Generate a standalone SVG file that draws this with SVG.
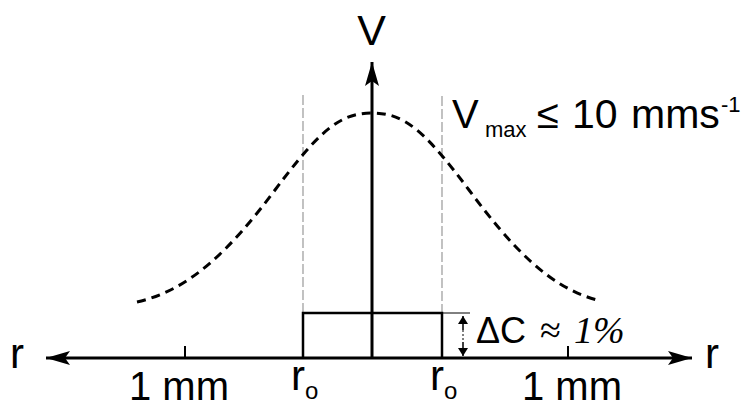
<svg xmlns="http://www.w3.org/2000/svg" width="741" height="408" viewBox="0 0 741 408">
<style>
.lbl{font-family:"Liberation Sans",Arial,Helvetica,sans-serif;fill:#000}
.ser{font-family:"Liberation Serif","Times New Roman",serif;fill:#000}
.ax{stroke:#000;stroke-width:3;fill:none}
.guide{stroke:#999;stroke-width:1.2;stroke-dasharray:10,3;fill:none}
.curve{stroke:#000;stroke-width:3;stroke-dasharray:9,6;fill:none}
</style>
<defs>
<marker id="ah" markerUnits="userSpaceOnUse" markerWidth="24" markerHeight="14" refX="24" refY="7" orient="auto">
<path d="M0,0 L24,7 L0,14 L5,7 z" fill="#000"/>
</marker>
<marker id="sm" markerUnits="userSpaceOnUse" markerWidth="8" markerHeight="10" refX="8" refY="5" orient="auto">
<path d="M0,0 L8,5 L0,10 z" fill="#000"/>
</marker>
</defs>
<rect width="741" height="408" fill="#fff"/>
<g id="guides">
<line class="guide" x1="303" y1="95" x2="303" y2="313"/>
<line class="guide" x1="442" y1="96" x2="442" y2="313"/>
</g>
<g id="profile">
<path class="curve" d="M137,302 C190,290 230,250 275,190 C320,130 340,113 372,113 C404,113 424,130 469,190 C510,245 548,287 597,300"/>
</g>
<g id="connectors">
<line class="ax" x1="372" y1="358" x2="372" y2="62" marker-end="url(#ah)"/>
<line class="ax" x1="372" y1="358" x2="46" y2="358" marker-end="url(#ah)"/>
<line class="ax" x1="372" y1="358" x2="692" y2="358" marker-end="url(#ah)"/>
<line x1="185" y1="346" x2="185" y2="358" stroke="#000" stroke-width="2"/>
<line x1="568" y1="346" x2="568" y2="358" stroke="#000" stroke-width="2"/>
<line x1="443" y1="313" x2="470" y2="313" stroke="#000" stroke-width="1"/>
<line x1="463" y1="330" x2="463" y2="342" stroke="#000" stroke-width="1" stroke-dasharray="2,2"/>
<line x1="463" y1="330" x2="463" y2="316" stroke="#000" stroke-width="1.5" marker-end="url(#sm)"/>
<line x1="463" y1="342" x2="463" y2="356" stroke="#000" stroke-width="1.5" marker-end="url(#sm)"/>
</g>
<g id="box">
<polyline points="303,358 303,313 442,313 442,358" fill="none" stroke="#000" stroke-width="2.5"/>
</g>
<g id="labels">
<text class="lbl" x="371.5" y="45" font-size="43" text-anchor="middle">V</text>
<text class="lbl" x="10" y="368" font-size="42">r</text>
<text class="lbl" x="705" y="368" font-size="42">r</text>
<text class="lbl" x="129" y="400" font-size="40">1 mm</text>
<text class="lbl" x="522" y="400" font-size="40">1 mm</text>
<text class="lbl" x="291" y="390" font-size="42">r</text>
<text class="lbl" x="305" y="399" font-size="24">o</text>
<text class="lbl" x="430" y="390" font-size="42">r</text>
<text class="lbl" x="444" y="399" font-size="24">o</text>
<text class="lbl" x="452" y="128" font-size="40">V</text>
<text class="lbl" x="485" y="137" font-size="22">max</text>
<text class="lbl" x="537" y="128" font-size="40">≤</text>
<text class="lbl" x="572" y="128" font-size="41">10</text>
<text class="lbl" x="631" y="128" font-size="41">mms</text>
<text class="lbl" x="721" y="112" font-size="22">-1</text>
<text class="lbl" x="476" y="343" font-size="36">ΔC</text>
<text class="ser" x="540" y="343" font-size="38">≈</text>
<text class="ser" x="574" y="343" font-size="38" font-style="italic">1%</text>
</g>
</svg>
